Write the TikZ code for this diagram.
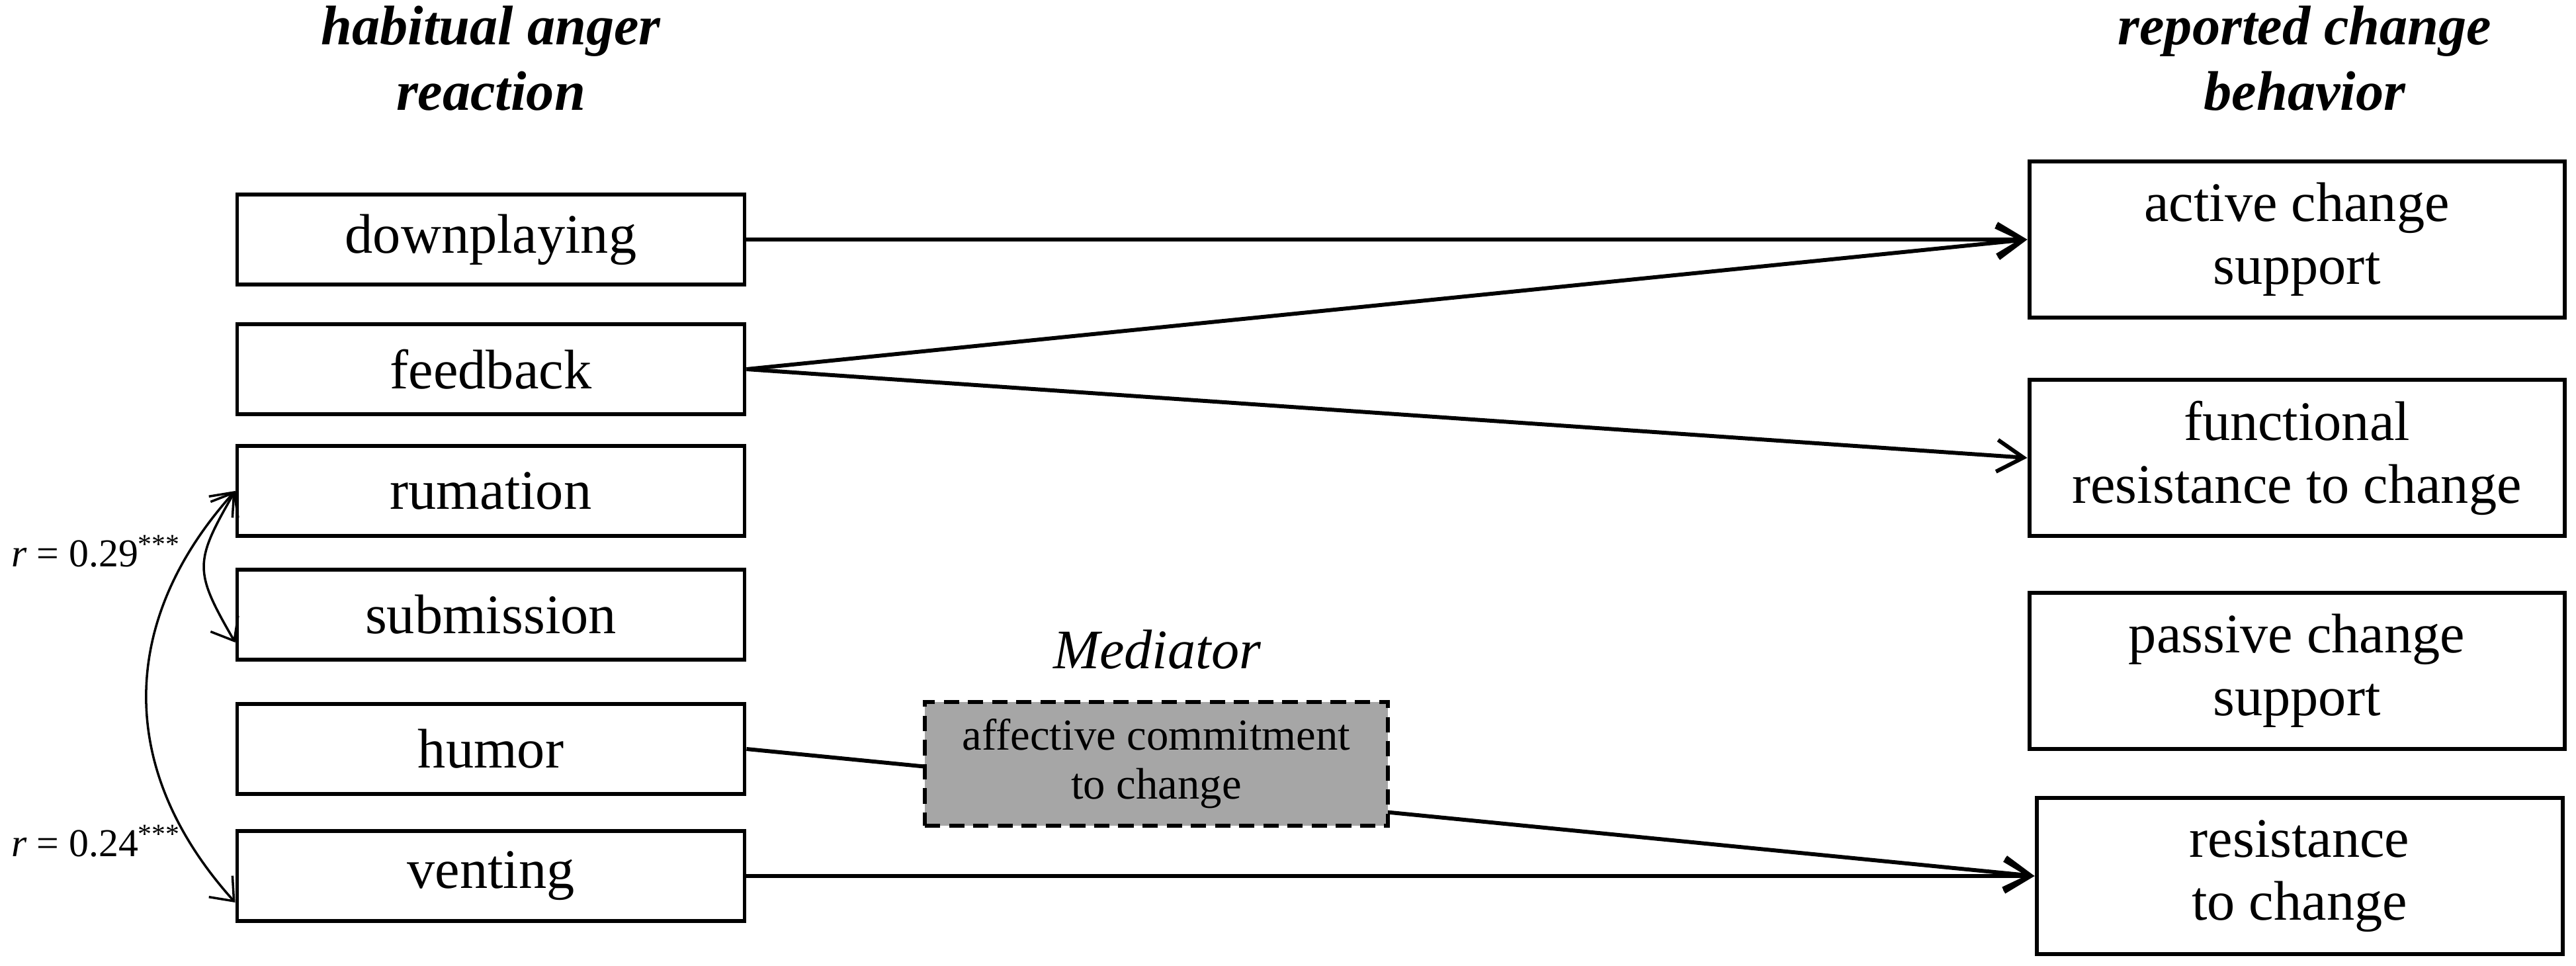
\documentclass[tikz,border=0pt]{standalone}
\usepackage{fontspec}
\setmainfont{Liberation Serif}
\usepackage{tikz}
\usetikzlibrary{arrows.meta}
\pgfdeclarelayer{bg}
\pgfsetlayers{bg,main}
\definecolor{medgray}{RGB}{166,166,166}

\begin{document}
\begin{tikzpicture}[
        heading/.style={align=center, font=\fontsize{12}{14}\selectfont\bfseries\itshape},
        reaction/.style={draw, line width=0.85pt, minimum width=3.835cm, minimum height=0.68cm, inner sep=0pt, font=\fontsize{12}{14}\selectfont},
        behavior/.style={draw, line width=0.85pt, minimum width=4.045cm, minimum height=1.18cm, inner sep=0pt, align=center, font=\fontsize{12}{13.5}\selectfont},
        mediator/.style={draw, dashed, dash pattern=on 3.3pt off 1.9pt, line width=0.85pt, fill=medgray, minimum width=3.5cm, minimum height=0.935cm, inner sep=0pt, align=center, font=\fontsize{9.5}{10.5}\selectfont},
        corr/.style={anchor=base west, inner sep=0pt, font=\fontsize{8.5}{10}\selectfont},
        effect/.style={line width=0.85pt, -{Straight Barb[length=2mm,width=2.4mm]}},
        cov/.style={line width=0.5pt, {Straight Barb[length=1.5mm,width=2.4mm]}-{Straight Barb[length=1.5mm,width=2.4mm]}}
]
        \useasboundingbox (0cm, 0cm) rectangle (19.47cm, -7.3cm);
        \node (h0) [heading] at (3.710000cm, -0.440000cm) {habitual anger\\reaction};
        \node (h1) [heading] at (17.420000cm, -0.440000cm) {reported change\\behavior};
        \node (v0) [reaction] at (3.710000cm, -1.810000cm) {downplaying};
        \node (v1) [reaction] at (3.710000cm, -2.790000cm) {feedback};
        \node (v2) [reaction] at (3.710000cm, -3.710000cm) {rumation};
        \node (v3) [reaction] at (3.710000cm, -4.645000cm) {submission};
        \node (v4) [reaction] at (3.710000cm, -5.660000cm) {humor};
        \node (v5) [reaction] at (3.710000cm, -6.620000cm) {venting};
        \node (w0) [behavior] at (17.360000cm, -1.810000cm) {active change\\support};
        \node (w1) [behavior] at (17.360000cm, -3.460000cm) {functional\\resistance to change};
        \node (w2) [behavior] at (17.360000cm, -5.070000cm) {passive change\\support};
        \node (w3) [behavior, minimum width=3.975cm] at (17.380000cm, -6.620000cm) {resistance\\to change};
        \node (m0) [mediator] at (8.740000cm, -5.770000cm) {affective commitment\\to change};
        \node (m1) [anchor=base, font=\fontsize{12}{14}\selectfont\itshape] at (8.745000cm, -5.050000cm) {Mediator};
        \node (c0) [corr] at (0.080000cm, -4.280000cm) {\textit{r} = 0.29\textsuperscript{***}};
        \node (c1) [corr] at (0.080000cm, -6.470000cm) {\textit{r} = 0.24\textsuperscript{***}};
        \begin{pgfonlayer}{bg}
                \draw [effect] (v0.east) -- (w0.west);
                \draw [effect] (v1.east) -- (w0.west);
                \draw [effect] (v1.east) -- (w1.west);
                \draw [effect] (v4.east) -- (w3.west);
                \draw [effect] (v5.east) -- (w3.west);
                \draw [cov] (v2.west) to [out=240, in=120, looseness=1.4] ([yshift=-0.21cm]v3.west);
                \draw [cov] (v2.west) to [out=228, in=132, looseness=1.1] ([yshift=-0.2cm]v5.west);
        \end{pgfonlayer}
\end{tikzpicture}
\end{document}
